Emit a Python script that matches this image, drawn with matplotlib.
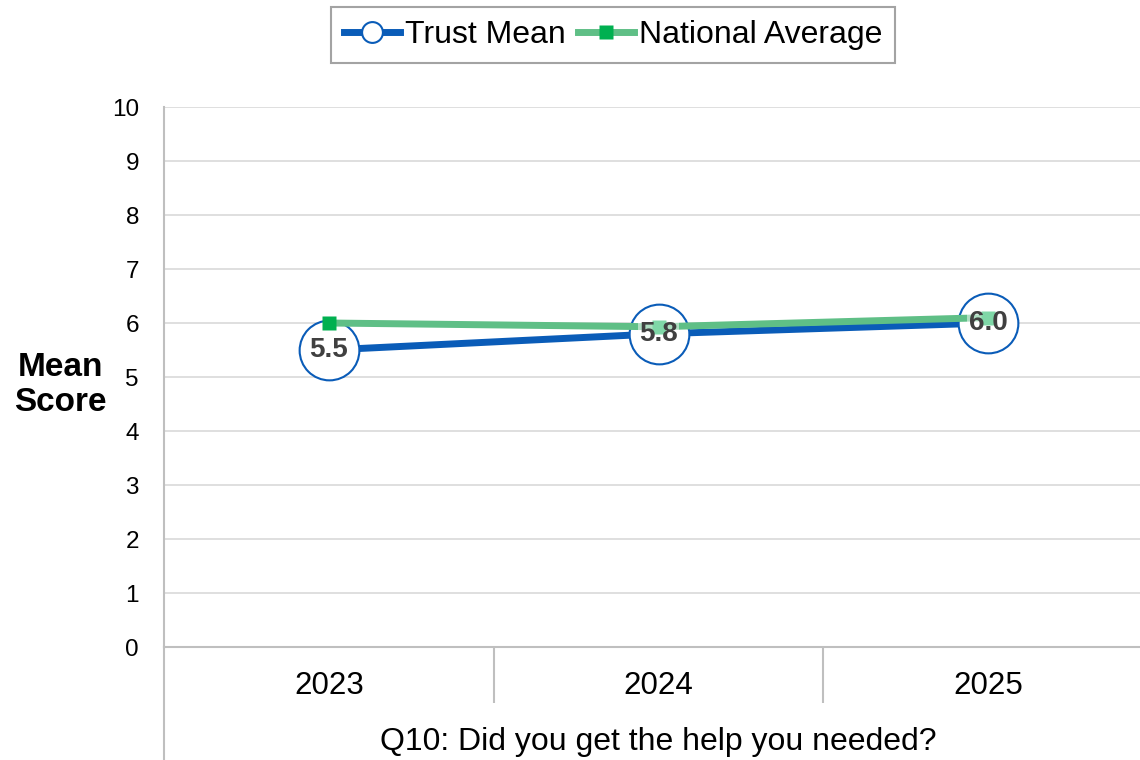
import matplotlib
matplotlib.use("Agg")
import matplotlib.pyplot as plt
from matplotlib.lines import Line2D

plt.rcParams['font.family'] = ['Liberation Sans', 'DejaVu Sans']

years = ["2023", "2024", "2025"]
trust_mean = [5.5, 5.8, 6.0]
national_avg = [6.0, 5.93, 6.1]
y_ticks = list(range(0, 11))
x_title = "Q10: Did you get the help you needed?"
y_title = "Mean\nScore"

BLUE = "#0A5CB8"
GREEN_LINE = "#5FBF86"
GREEN_MARK = "#00B050"
GRID = "#D9D9D9"
AXIS = "#BFBFBF"

fig = plt.figure(figsize=(11.4, 7.6), dpi=100)
ax = fig.add_axes([164/1140, 1-647/760, (1153-164)/1140, (647-107)/760])

x = list(range(len(years)))

ax.plot(x, trust_mean, color=BLUE, lw=5, marker='o', ms=43,
        mfc='white', mec=BLUE, mew=1.5, zorder=3, solid_capstyle='butt')
ax.plot(x, national_avg, color=GREEN_LINE, lw=5, marker='s', ms=10,
        mfc=GREEN_MARK, mec='none', zorder=4, solid_capstyle='butt')

for xi, v in zip(x, trust_mean):
    ax.text(xi, v, f"{v:.1f}", ha='center', va='center', fontsize=20,
            fontweight='bold', color='#404040', zorder=5,
            bbox=dict(boxstyle='square,pad=0.05', fc=(1, 1, 1, 0.5), ec='none'))

ax.set_xlim(-0.5, len(years) - 0.5)
ax.set_ylim(0, 10)
ax.set_yticks(y_ticks)
ax.set_yticklabels([str(t) for t in y_ticks])
ax.set_xticks(x)
ax.set_xticklabels(years)
ax.set_xticks([0.5, 1.5], minor=True)

ax.tick_params(axis='y', length=0, pad=18, labelsize=17.5)
ax.tick_params(axis='x', which='major', length=0, pad=17, labelsize=22.5)
ax.tick_params(axis='x', which='minor', length=40, width=1.5, color=AXIS, direction='out')

ax.grid(axis='y', color=GRID, lw=1.2)
ax.set_axisbelow(True)
for s in ['top', 'right']:
    ax.spines[s].set_visible(False)
ax.spines['bottom'].set_color(AXIS)
ax.spines['bottom'].set_linewidth(1.5)
ax.spines['left'].set_color(AXIS)
ax.spines['left'].set_linewidth(1.5)
ax.add_line(Line2D([0, 0], [0, -0.3], transform=ax.transAxes, color=AXIS,
                   lw=1.5, clip_on=False))

ax.set_xlabel(x_title, fontsize=23, labelpad=14)
fig.text(60/1140, 1-385/760, y_title, ha='center', va='center',
         fontsize=24, fontweight='bold', linespacing=1.2)

handles = [
    Line2D([], [], color=BLUE, lw=5, marker='o', ms=15, mfc='white', mec=BLUE, mew=1.5),
    Line2D([], [], color=GREEN_LINE, lw=5, marker='s', ms=10, mfc=GREEN_MARK, mec='none'),
]
leg = fig.legend(handles, ["Trust Mean", "National Average"], loc='center',
                 bbox_to_anchor=(613/1140, 1-35/760), ncol=2, fontsize=23,
                 frameon=True, fancybox=False, edgecolor='#8C8C8C',
                 handlelength=1.75, handletextpad=0.15, columnspacing=0.4,
                 borderpad=0.4)
leg.get_frame().set_linewidth(1.5)

fig.savefig("out.png", dpi=100)
